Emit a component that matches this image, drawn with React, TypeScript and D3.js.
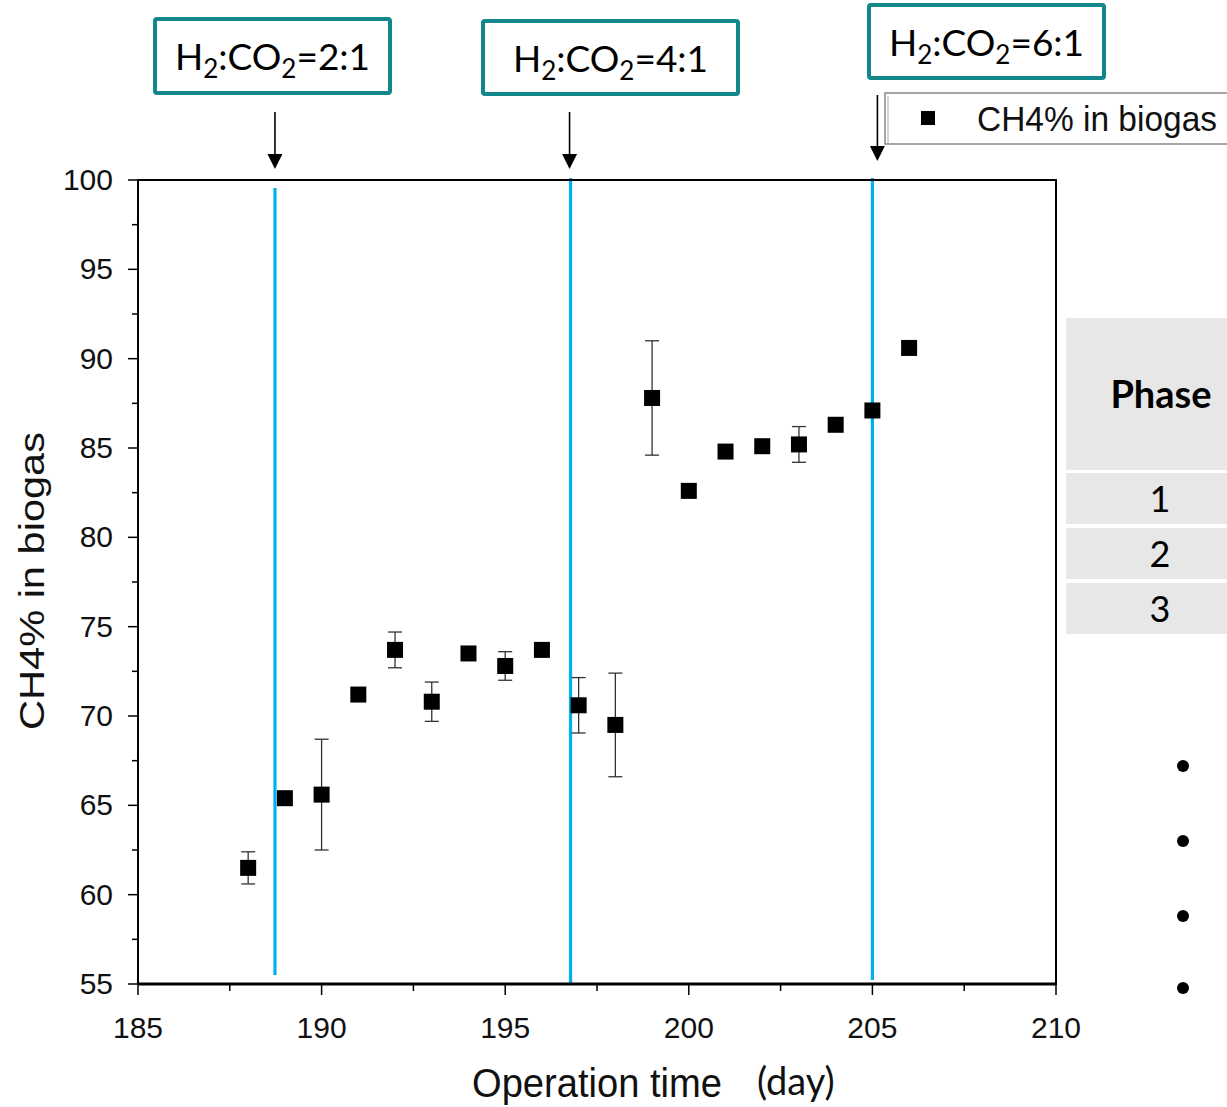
import React from "react";
import * as d3 from "d3";

const days = [188, 189, 190, 191, 192, 193, 194, 195, 196, 197, 198, 199, 200, 201, 202, 203, 204, 205, 206];
const ch4 = [61.5, 65.4, 65.6, 71.2, 73.7, 70.8, 73.5, 72.8, 73.7, 70.6, 69.5, 87.8, 82.6, 84.8, 85.1, 85.2, 86.3, 87.1, 90.6];
const errs = [0.9, 0.2, 3.1, 0.2, 1.0, 1.1, 0.3, 0.8, 0.2, 1.55, 2.9, 3.2, 0, 0, 0, 1.0, 0, 0, 0];
const xTicks = [185, 190, 195, 200, 205, 210];
const yTicks = [55, 60, 65, 70, 75, 80, 85, 90, 95, 100];
const phaseDays = [188.73, 196.78, 205.0];
const ratios = ["2", "4", "6"];
const phases = ["1", "2", "3"];

const W = 1227, H = 1107;
const M = { left: 138, right: 1056, top: 180, bottom: 984 };

export default function App() {
  const x = d3.scaleLinear().domain([185, 210]).range([M.left, M.right]);
  const y = d3.scaleLinear().domain([55, 100]).range([M.bottom, M.top]);
  const minorX = d3.range(187.5, 210, 5);
  const minorY = d3.range(57.5, 100, 5);
  const arial = "'Liberation Sans', Arial, sans-serif";
  const cal = "Lato, 'Open Sans', sans-serif";
  const teal = "#12878a";
  const cyan = "#00b0f0";

  const boxes = [
    { x: 155, y: 19, w: 235, h: 74, ax: x(phaseDays[0]), ay1: 112, ay2: 169 },
    { x: 483, y: 21, w: 255, h: 73, ax: x(phaseDays[1]) - 1, ay1: 112, ay2: 169 },
    { x: 869, y: 5, w: 235, h: 73, ax: x(phaseDays[2]) + 5, ay1: 95, ay2: 161 },
  ];
  const lineTops = [188, 178, 178];
  const lineBottoms = [975, 984, 980];

  return (
    <svg width={W} height={H} style={{ position: "absolute", left: 0, top: 0, background: "#fff" }}>
      <rect x={0} y={0} width={W} height={H} fill="#fff" />

      {/* phase lines */}
      {phaseDays.map((d, i) => (
        <line key={i} x1={x(d)} x2={x(d)} y1={lineTops[i]} y2={lineBottoms[i]} stroke={cyan} strokeWidth={3.2} />
      ))}

      {/* frame */}
      <rect x={M.left} y={M.top} width={M.right - M.left} height={M.bottom - M.top} fill="none" stroke="#000" strokeWidth={2} />
      <line x1={M.left} x2={M.right} y1={M.bottom} y2={M.bottom} stroke="#000" strokeWidth={3} />

      {/* x ticks */}
      {xTicks.map((t) => (
        <g key={t}>
          <line x1={x(t)} x2={x(t)} y1={M.bottom} y2={M.bottom + 11} stroke="#000" strokeWidth={1.5} />
          <text x={x(t)} y={1038} textAnchor="middle" fontFamily={arial} fontSize={30} fill="#111">{t}</text>
        </g>
      ))}
      {minorX.map((t) => (
        <line key={t} x1={x(t)} x2={x(t)} y1={M.bottom} y2={M.bottom + 7} stroke="#000" strokeWidth={1.5} />
      ))}
      {/* y ticks */}
      {yTicks.map((t) => (
        <g key={t}>
          <line x1={M.left - 10} x2={M.left} y1={y(t)} y2={y(t)} stroke="#000" strokeWidth={1.5} />
          <text x={113} y={y(t) + 10} textAnchor="end" fontFamily={arial} fontSize={30} fill="#111">{t}</text>
        </g>
      ))}
      {minorY.map((t) => (
        <line key={t} x1={M.left - 6} x2={M.left} y1={y(t)} y2={y(t)} stroke="#000" strokeWidth={1.5} />
      ))}

      {/* axis titles */}
      <text transform={`translate(44,${730}) rotate(-90)`} fontFamily={arial} fontSize={35} fill="#111" textLength={298} lengthAdjust="spacingAndGlyphs">CH4% in biogas</text>
      <text x={472} y={1097} fontFamily={arial} fontSize={40} fill="#111" textLength={250} lengthAdjust="spacingAndGlyphs">Operation time</text>
      <text x={757} y={1095} fontFamily={cal} fontSize={38} fill="#111">(day)</text>

      {/* error bars */}
      {days.map((d, i) =>
        errs[i] > 0 ? (
          <g key={"e" + d} stroke="#333" strokeWidth={1.3}>
            <line x1={x(d)} x2={x(d)} y1={y(ch4[i] - errs[i])} y2={y(ch4[i] + errs[i])} />
            <line x1={x(d) - 7} x2={x(d) + 7} y1={y(ch4[i] - errs[i])} y2={y(ch4[i] - errs[i])} />
            <line x1={x(d) - 7} x2={x(d) + 7} y1={y(ch4[i] + errs[i])} y2={y(ch4[i] + errs[i])} />
          </g>
        ) : null
      )}
      {/* markers */}
      {days.map((d, i) => (
        <rect key={"m" + d} x={x(d) - 8} y={y(ch4[i]) - 8} width={16} height={16} fill="#000" />
      ))}

      {/* arrows and ratio boxes */}
      {boxes.map((b, i) => (
        <g key={"b" + i}>
          <line x1={b.ax} x2={b.ax} y1={b.ay1} y2={b.ay2 - 12} stroke="#000" strokeWidth={1.6} />
          <path d={`M${b.ax - 7.5},${b.ay2 - 15} L${b.ax + 7.5},${b.ay2 - 15} L${b.ax},${b.ay2} Z`} fill="#000" />
          <rect x={b.x} y={b.y} width={b.w} height={b.h} rx={2} fill="#fff" stroke={teal} strokeWidth={4} />
          <text x={b.x + b.w / 2} y={b.y + b.h / 2 + 14} textAnchor="middle" fontFamily={cal} fontSize={37} fill="#000">
            H<tspan fontSize={26} dy={8}>2</tspan>
            <tspan dy={-8}>:CO</tspan>
            <tspan fontSize={26} dy={8}>2</tspan>
            <tspan dy={-8}>={ratios[i]}:1</tspan>
          </text>
        </g>
      ))}

      {/* legend */}
      <rect x={885} y={93} width={360} height={51} fill="#fff" stroke="#888" strokeWidth={1.5} />
      <line x1={888} x2={888} y1={96} y2={144} stroke="#aaa" strokeWidth={1} />
      <rect x={921} y={111} width={14} height={14} fill="#000" />
      <text x={977} y={131} fontFamily={arial} fontSize={35} fill="#111" textLength={240} lengthAdjust="spacingAndGlyphs">CH4% in biogas</text>

      {/* phase table */}
      <rect x={1066} y={318} width={170} height={152} fill="#e7e7e7" />
      <text x={1161} y={408} textAnchor="middle" fontFamily={cal} fontWeight="bold" fontSize={38} fill="#000">Phase</text>
      {phases.map((p, i) => (
        <g key={"p" + p}>
          <rect x={1066} y={473 + i * 55} width={170} height={51} fill="#e7e7e7" />
          <text x={1160} y={512 + i * 55} textAnchor="middle" fontFamily={cal} fontSize={36} fill="#000">{p}</text>
        </g>
      ))}

      {/* bullets */}
      {[766, 841, 916, 988].map((cy) => (
        <circle key={cy} cx={1183} cy={cy} r={6} fill="#000" />
      ))}
    </svg>
  );
}
